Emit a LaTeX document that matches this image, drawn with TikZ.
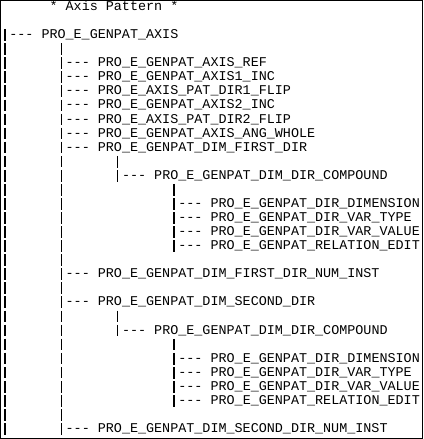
\documentclass[tikz,border=0pt]{standalone}
\usepackage{fontspec}
\setmonofont{Liberation Mono}
\usetikzlibrary{calc}

\begin{document}
\begin{tikzpicture}[
            x=6.0375pt,y=-10.5525pt,
            entry/.style={anchor=base west,inner sep=0pt,font=\ttfamily\fontsize{10.06pt}{12pt}\selectfont},
            barline/.style={draw,line width=.9pt,dash pattern=on 8.76pt off 1.79pt},
            boxframe/.style={draw,line width=1pt}
          ]
          \useasboundingbox (-0.124,-0.746) rectangle (52.547,30.455);
          \draw[boxframe] (-0.043,-0.700) rectangle (52.385,30.405);

          %title
          \node[entry] (title) at (6,0) {* Axis Pattern *};

          %top level
          \node[entry] (axis) at (1,2) {--- PRO\_E\_GENPAT\_AXIS};

          %axis children
          \node[entry] (ref) at (8,4) {--- PRO\_E\_GENPAT\_AXIS\_REF};
          \node[entry] (inc1) at (8,5) {--- PRO\_E\_GENPAT\_AXIS1\_INC};
          \node[entry] (flip1) at (8,6) {--- PRO\_E\_AXIS\_PAT\_DIR1\_FLIP};
          \node[entry] (inc2) at (8,7) {--- PRO\_E\_GENPAT\_AXIS2\_INC};
          \node[entry] (flip2) at (8,8) {--- PRO\_E\_AXIS\_PAT\_DIR2\_FLIP};
          \node[entry] (ang) at (8,9) {--- PRO\_E\_GENPAT\_AXIS\_ANG\_WHOLE};
          \node[entry] (first) at (8,10) {--- PRO\_E\_GENPAT\_DIM\_FIRST\_DIR};
          \node[entry] (nfirst) at (8,19) {--- PRO\_E\_GENPAT\_DIM\_FIRST\_DIR\_NUM\_INST};
          \node[entry] (second) at (8,21) {--- PRO\_E\_GENPAT\_DIM\_SECOND\_DIR};
          \node[entry] (nsecond) at (8,30) {--- PRO\_E\_GENPAT\_DIM\_SECOND\_DIR\_NUM\_INST};

          %first direction
          \node[entry] (cmp1) at (15,12) {--- PRO\_E\_GENPAT\_DIM\_DIR\_COMPOUND};
          \node[entry] (dim1) at (22,14) {--- PRO\_E\_GENPAT\_DIR\_DIMENSION};
          \node[entry] (vtype1) at (22,15) {--- PRO\_E\_GENPAT\_DIR\_VAR\_TYPE};
          \node[entry] (vval1) at (22,16) {--- PRO\_E\_GENPAT\_DIR\_VAR\_VALUE};
          \node[entry] (edit1) at (22,17) {--- PRO\_E\_GENPAT\_RELATION\_EDIT};

          %second direction
          \node[entry] (cmp2) at (15,23) {--- PRO\_E\_GENPAT\_DIM\_DIR\_COMPOUND};
          \node[entry] (dim2) at (22,25) {--- PRO\_E\_GENPAT\_DIR\_DIMENSION};
          \node[entry] (vtype2) at (22,26) {--- PRO\_E\_GENPAT\_DIR\_VAR\_TYPE};
          \node[entry] (vval2) at (22,27) {--- PRO\_E\_GENPAT\_DIR\_VAR\_VALUE};
          \node[entry] (edit2) at (22,28) {--- PRO\_E\_GENPAT\_RELATION\_EDIT};

          %bars
          \path[barline]
          ($(axis.base west)+(-0.5,-0.67)$) -- ($(nsecond.base west)+(-7.5,0.16)$)
          ($(ref.base west)+(-0.5,-1.67)$) -- ($(nsecond.base west)+(-0.5,0.16)$)
          ($(cmp1.base west)+(-0.5,-1.67)$) -- ($(cmp1.base west)+(-0.5,0.16)$)
          ($(dim1.base west)+(-0.5,-1.67)$) -- ($(edit1.base west)+(-0.5,0.16)$)
          ($(cmp2.base west)+(-0.5,-1.67)$) -- ($(cmp2.base west)+(-0.5,0.16)$)
          ($(dim2.base west)+(-0.5,-1.67)$) -- ($(edit2.base west)+(-0.5,0.16)$)
          ;

      \end{tikzpicture}
\end{document}
